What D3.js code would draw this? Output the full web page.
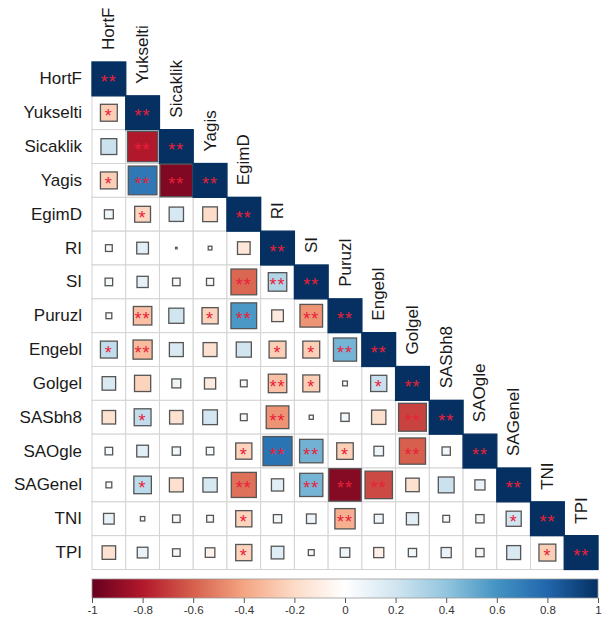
<!DOCTYPE html>
<html>
<head>
<meta charset="utf-8">
<script src="https://cdn.jsdelivr.net/npm/d3@7/dist/d3.min.js"></script>
<style>
  html, body { margin: 0; padding: 0; background: #ffffff; }
  svg { display: block; font-family: "Liberation Sans", Arial, sans-serif; }
</style>
</head>
<body>
<svg id="chart" width="605" height="630"></svg>
<script>
// Variable names (rows top-to-bottom, columns left-to-right)
const variables = ["HortF", "Yukselti", "Sicaklik", "Yagis", "EgimD", "RI", "SI",
  "Puruzl", "Engebl", "Golgel", "SASbh8", "SAOgle", "SAGenel", "TNI", "TPI"];

// Lower-triangle correlation coefficients, row i holds r(i, j) for j < i
const corrLower = [
  [],
  [-0.25],
  [0.22, -0.80],
  [-0.25, 0.72, -0.93],
  [0.07, -0.22, 0.18, -0.19],
  [0.04, 0.12, 0.002, 0.012, -0.14],
  [0.05, 0.11, 0.05, 0.045, -0.58, 0.30],
  [0.03, -0.30, 0.20, -0.23, 0.58, -0.12, -0.45],
  [0.25, -0.32, 0.17, -0.17, 0.20, -0.25, -0.25, 0.47],
  [0.16, -0.23, 0.07, -0.11, 0.04, -0.30, -0.25, 0.02, 0.23],
  [-0.16, 0.25, -0.16, 0.19, 0.04, -0.45, 0.015, 0.06, -0.18, -0.68],
  [0.05, 0.12, 0.06, 0.05, -0.23, 0.74, 0.48, -0.24, 0.08, -0.60, 0.06],
  [0.03, 0.27, -0.17, 0.18, -0.55, 0.13, 0.47, -0.92, -0.66, -0.16, 0.22, 0.09],
  [0.10, 0.017, 0.05, 0.04, -0.23, 0.06, 0.08, -0.36, 0.07, 0.13, 0.04, 0.06, 0.20],
  [-0.16, 0.10, 0.05, -0.08, -0.23, 0.14, 0.03, 0.08, -0.09, 0.06, 0.09, 0.06, 0.17, -0.25]
];

// Significance markers for the same cells
const sigLower = [
  [],
  ["*"],
  ["", "**"],
  ["*", "**", "**"],
  ["", "*", "", ""],
  ["", "", "", "", ""],
  ["", "", "", "", "**", "**"],
  ["", "**", "", "*", "**", "", "**"],
  ["*", "**", "", "", "", "*", "*", "**"],
  ["", "", "", "", "", "**", "*", "", "*"],
  ["", "*", "", "", "", "**", "", "", "", "**"],
  ["", "", "", "", "*", "**", "**", "*", "", "**", ""],
  ["", "*", "", "", "**", "", "**", "**", "**", "", "", ""],
  ["", "", "", "", "*", "", "", "**", "", "", "", "", "*"],
  ["", "", "", "", "*", "", "", "", "", "", "", "", "", "*"]
];

// Colour-bar tick values
const legendTicks = [-1, -0.8, -0.6, -0.4, -0.2, 0, 0.2, 0.4, 0.6, 0.8, 1];

// Diverging red-white-blue palette
const paletteColors = ["#67001F", "#B2182B", "#D6604D", "#F4A582", "#FDDBC7", "#FFFFFF",
  "#D1E5F0", "#92C5DE", "#4393C3", "#2166AC", "#053061"];

// Build cell list (lower triangle incl. diagonal)
const cells = [];
variables.forEach((rowName, i) => {
  for (let j = 0; j <= i; j++) {
    const r = j === i ? 1 : corrLower[i][j];
    const sig = j === i ? "**" : sigLower[i][j];
    cells.push({ row: rowName, col: variables[j], i, j, r, sig });
  }
});

const svg = d3.select("#chart");

const gridLeft = 92, gridRight = 598, gridTop = 62, gridBottom = 569.5;

const x = d3.scaleBand().domain(variables).range([gridLeft, gridRight]).padding(0);
const y = d3.scaleBand().domain(variables).range([gridTop, gridBottom]).padding(0);

const colorDomain = d3.range(paletteColors.length).map(k => -1 + 2 * k / (paletteColors.length - 1));
const color = d3.scaleLinear().domain(colorDomain).range(paletteColors).interpolate(d3.interpolateRgb);

// Square side grows with sqrt(|r|)
const side = d3.scaleSqrt().domain([0, 1]).range([0, 1]);

// Cell backgrounds with grid lines
svg.append("g")
  .selectAll("rect")
  .data(cells)
  .join("rect")
  .attr("x", d => x(d.col))
  .attr("y", d => y(d.row))
  .attr("width", x.bandwidth())
  .attr("height", y.bandwidth())
  .attr("fill", "#ffffff")
  .attr("stroke", "#d3d3d3")
  .attr("stroke-width", 1);

// Correlation squares
svg.append("g")
  .selectAll("rect")
  .data(cells)
  .join("rect")
  .attr("x", d => {
    const s = x.bandwidth() * side(Math.abs(d.r));
    return x(d.col) + (x.bandwidth() - s) / 2;
  })
  .attr("y", d => {
    const s = y.bandwidth() * side(Math.abs(d.r));
    return y(d.row) + (y.bandwidth() - s) / 2;
  })
  .attr("width", d => x.bandwidth() * side(Math.abs(d.r)))
  .attr("height", d => y.bandwidth() * side(Math.abs(d.r)))
  .attr("fill", d => color(d.r))
  .attr("stroke", d => d.i === d.j ? color(d.r) : "#555555")
  .attr("stroke-width", 1.3);

// Significance stars
svg.append("g")
  .selectAll("text")
  .data(cells.filter(d => d.sig))
  .join("text")
  .attr("x", d => x(d.col) + x.bandwidth() / 2)
  .attr("y", d => y(d.row) + y.bandwidth() / 2 + 9.5)
  .attr("text-anchor", "middle")
  .attr("font-size", 18)
  .attr("letter-spacing", 1)
  .attr("fill", "#E8213A")
  .text(d => d.sig);

// Row labels
svg.append("g")
  .selectAll("text")
  .data(variables)
  .join("text")
  .attr("x", gridLeft - 10)
  .attr("y", d => y(d) + y.bandwidth() / 2)
  .attr("text-anchor", "end")
  .attr("dominant-baseline", "central")
  .attr("font-size", 17)
  .attr("fill", "#1a1a1a")
  .text(d => d);

// Column labels, rotated, sitting above each diagonal cell
svg.append("g")
  .selectAll("text")
  .data(variables)
  .join("text")
  .attr("transform", d => `translate(${x(d) + x.bandwidth() / 2},${y(d) - 12}) rotate(-90)`)
  .attr("text-anchor", "start")
  .attr("dominant-baseline", "central")
  .attr("font-size", 17)
  .attr("fill", "#1a1a1a")
  .text(d => d);

// Colour bar
const defs = svg.append("defs");
const grad = defs.append("linearGradient").attr("id", "corrGrad")
  .attr("x1", "0%").attr("x2", "100%").attr("y1", "0%").attr("y2", "0%");
grad.selectAll("stop")
  .data(paletteColors)
  .join("stop")
  .attr("offset", (d, k) => `${(100 * k) / (paletteColors.length - 1)}%`)
  .attr("stop-color", d => d);

const legendX = d3.scaleLinear().domain([-1, 1]).range([gridLeft, gridRight]);
const barTop = 579, barHeight = 19;

svg.append("rect")
  .attr("x", legendX(-1))
  .attr("y", barTop)
  .attr("width", legendX(1) - legendX(-1))
  .attr("height", barHeight)
  .attr("fill", "url(#corrGrad)")
  .attr("stroke", "#9a9a9a")
  .attr("stroke-width", 0.8);

const legendAxis = d3.axisBottom(legendX)
  .tickValues(legendTicks)
  .tickSize(5)
  .tickPadding(3)
  .tickFormat(d => String(+d.toFixed(1)));

const axisG = svg.append("g")
  .attr("transform", `translate(0,${barTop + barHeight})`)
  .call(legendAxis);
axisG.select(".domain").remove();
axisG.selectAll(".tick line").attr("stroke", "#555555");
axisG.selectAll(".tick text")
  .attr("font-size", 11.5)
  .attr("font-family", "Liberation Sans, Arial, sans-serif")
  .attr("fill", "#333333");
</script>
</body>
</html>
